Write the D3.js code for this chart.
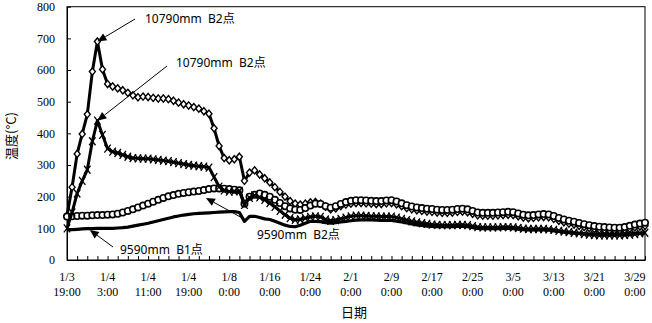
<!DOCTYPE html>
<html><head><meta charset="utf-8">
<script src="https://cdn.jsdelivr.net/npm/d3@7"></script>
<style>body{margin:0;background:#fff;} svg{display:block}</style>
</head><body>
<svg id="c" width="652" height="323"></svg>
<script>
// 10790mm B2 (diamond markers)
const seriesD = [140,230,335,398,460,595,690,602,556,548,
542,536,528,520,514,516,515,512,510,510,
508,503,497,492,488,483,478,470,462,416,
360,322,315,318,326,250,276,283,270,258,
245,230,215,200,186,178,175,178,182,183,
178,168,160,163,170,175,178,180,180,179,
178,177,177,179,180,176,170,164,160,157,
155,153,152,150,149,149,150,152,153,151,
146,141,140,140,140,141,142,143,142,138,
134,132,133,135,136,135,130,124,119,115,
112,108,104,101,98,96,95,94,94,94,
96,99,103,106,108];
// 9590mm B2 (circle markers)
const seriesC = [137,138,139,140,140,141,142,142,143,144,
146,150,155,160,166,172,178,184,190,196,
201,205,209,212,214,216,218,221,224,226,
226,225,224,222,220,178,200,206,210,206,
200,190,180,170,163,159,158,164,172,178,
177,170,165,170,177,183,187,189,189,188,
187,186,186,188,189,185,179,173,169,166,
164,162,161,159,158,158,159,161,162,160,
155,150,149,149,149,150,151,152,151,147,
143,141,142,144,145,144,139,133,128,124,
121,117,113,110,107,105,104,103,102,102,
104,108,112,115,118];
// 10790mm B2 second (cross markers)
const seriesX = [100,150,210,250,285,375,440,395,352,342,
338,332,326,322,321,320,320,318,316,314,
312,309,306,303,300,298,296,295,292,262,
232,220,216,217,218,174,196,204,198,190,
180,168,155,143,132,127,128,132,136,138,
136,128,124,126,130,134,138,140,140,139,
138,138,137,137,137,134,130,126,122,119,
116,114,112,111,110,110,110,111,111,110,
107,104,103,103,103,103,104,104,103,101,
99,98,98,98,98,97,95,92,90,88,
86,84,82,80,79,78,78,78,78,78,
79,80,82,84,86];
// 9590mm B1 (plain line)
const seriesP = [95,96,97,98,99,99,100,100,100,100,
101,102,104,107,110,113,116,120,124,128,
132,136,139,142,144,146,147,148,149,150,
151,152,153,153,150,122,138,138,134,130,
128,122,116,110,106,105,110,116,122,122,
121,118,116,118,120,122,124,126,127,127,
127,126,125,125,125,123,120,117,114,111,
109,107,106,105,105,105,105,106,106,105,
102,100,99,99,99,99,100,100,99,97,
96,95,95,95,95,94,92,90,88,86,
85,84,83,82,81,80,80,80,81,81,
82,83,84,85,86];

const xTickTop = ["1/3","1/4","1/4","1/4","1/8","1/16","1/24","2/1","2/9","2/17","2/25","3/5","3/13","3/21","3/29"];
const xTickBottom = ["19:00","3:00","11:00","19:00","0:00","0:00","0:00","0:00","0:00","0:00","0:00","0:00","0:00","0:00","0:00"];
const labelEvery = 8, tickEvery = 2;
const yTicks = [0,100,200,300,400,500,600,700,800];

const annTexts = ["10790mm  B2点","10790mm  B2点","9590mm  B1点","9590mm  B2点"];
const annTipIdx = [6, 6, 4.5, 27.4];
const annTipVal = [690, 440, 95, 196];

const L = 67, R = 645, T = 6.7, B = 260;
const svg = d3.select("#c");
const x = d3.scaleLinear().domain([0, seriesD.length - 1]).range([L, R]);
const y = d3.scaleLinear().domain([0, 800]).range([B, T]);

// frame
svg.append("rect").attr("x", L).attr("y", T).attr("width", R - L).attr("height", B - T)
  .attr("fill", "none").attr("stroke", "#000").attr("stroke-width", 1);

// y axis
const ya = svg.append("g").attr("transform", `translate(${L},0)`)
  .call(d3.axisLeft(y).tickValues(yTicks).tickSizeInner(-4).tickSizeOuter(0).tickPadding(12));
ya.selectAll("text").attr("font-family", "Liberation Serif, serif").attr("font-size", 12).attr("fill", "#000");
ya.selectAll("line,path").attr("stroke", "#000");

// x axis
const tickIdx = d3.range(0, seriesD.length, tickEvery);
const xa = svg.append("g").attr("transform", `translate(0,${B})`)
  .call(d3.axisBottom(x).tickValues(tickIdx).tickSizeInner(-4).tickSizeOuter(0).tickFormat(() => ""));
xa.selectAll("line,path").attr("stroke", "#000");
const labG = svg.append("g").attr("font-family", "Liberation Serif, serif").attr("font-size", 12).attr("text-anchor", "middle");
xTickTop.forEach((t, i) => {
  const tx = labG.append("text").attr("x", x(i * labelEvery)).attr("y", B + 21);
  tx.append("tspan").attr("x", x(i * labelEvery)).text(t);
  tx.append("tspan").attr("x", x(i * labelEvery)).attr("dy", 15).text(xTickBottom[i]);
});

// axis titles
svg.append("text").attr("transform", "translate(16,136) rotate(-90)").attr("text-anchor", "middle")
  .attr("font-family", "Noto Sans CJK SC").attr("font-size", 13).text("温度(°C)");
svg.append("text").attr("x", 354).attr("y", 317).attr("text-anchor", "middle")
  .attr("font-family", "Noto Sans CJK SC").attr("font-size", 13).text("日期");

const line = d3.line().x((d, i) => x(i)).y(d => y(d));
const g = svg.append("g");

function drawLine(data, w) {
  g.append("path").datum(data).attr("d", line).attr("fill", "none").attr("stroke", "#000")
    .attr("stroke-width", w).attr("stroke-linejoin", "round");
}
// diamond
drawLine(seriesD, 3);
g.append("g").selectAll("path").data(seriesD).join("path")
  .attr("transform", (d, i) => `translate(${x(i)},${y(d)})`)
  .attr("d", "M0,-3.6L3,0L0,3.6L-3,0Z").attr("fill", "#fff").attr("stroke", "#000").attr("stroke-width", 1.4);
// circle
drawLine(seriesC, 3);
g.append("g").selectAll("circle").data(seriesC).join("circle")
  .attr("cx", (d, i) => x(i)).attr("cy", d => y(d)).attr("r", 3.2)
  .attr("fill", "#fff").attr("stroke", "#000").attr("stroke-width", 1.6);
// cross
drawLine(seriesX, 3);
g.append("g").selectAll("path").data(seriesX).join("path")
  .attr("transform", (d, i) => `translate(${x(i)},${y(d)})`)
  .attr("d", "M-3.2,-4L3.2,4M-3.2,4L3.2,-4").attr("fill", "none").attr("stroke", "#000").attr("stroke-width", 1.3);
// plain
drawLine(seriesP, 3.2);

// annotations
const annText = [[145, 23], [176, 67], [120, 254], [257, 239]];
const annFrom = [[135, 19], [167, 66], [113, 247], [244, 219]];
const ag = svg.append("g");
annTexts.forEach((t, i) => {
  const tip = [x(annTipIdx[i]), y(annTipVal[i])];
  const f = annFrom[i];
  const a = Math.atan2(tip[1] - f[1], tip[0] - f[0]);
  const len = 9, hw = 4;
  const bx = tip[0] - len * Math.cos(a), by = tip[1] - len * Math.sin(a);
  ag.append("line").attr("x1", f[0]).attr("y1", f[1]).attr("x2", bx).attr("y2", by)
    .attr("stroke", "#000").attr("stroke-width", 1);
  const p1 = [bx + hw * Math.sin(a), by - hw * Math.cos(a)];
  const p2 = [bx - hw * Math.sin(a), by + hw * Math.cos(a)];
  ag.append("path").attr("d", `M${tip}L${p1}L${p2}Z`).attr("fill", "#000");
  ag.append("text").attr("x", annText[i][0]).attr("y", annText[i][1])
    .attr("font-family", "Noto Sans, Noto Sans CJK SC").attr("font-size", 12).attr("xml:space", "preserve")
    .style("white-space", "pre").text(t);
});
</script>
</body></html>
